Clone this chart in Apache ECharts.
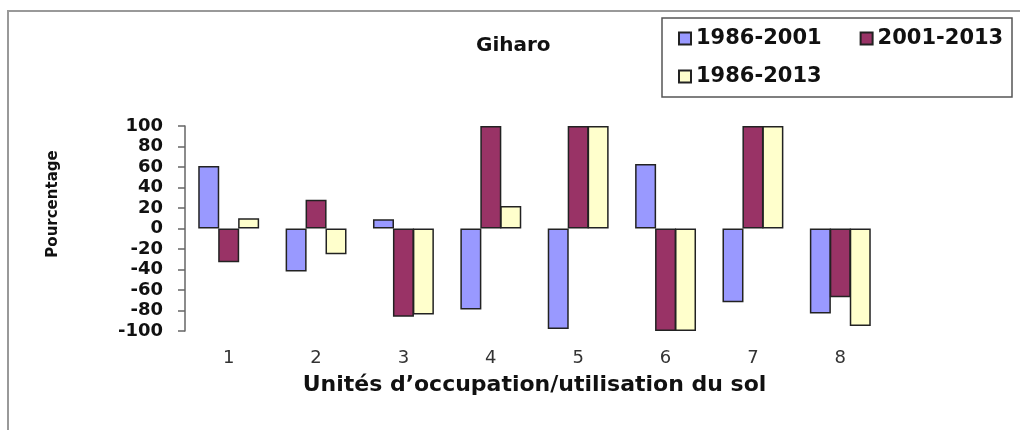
<!DOCTYPE html>
<html>
<head>
<meta charset="utf-8">
<script src="https://cdn.jsdelivr.net/npm/echarts@6/dist/echarts.min.js"></script>
<style>
html,body{margin:0;padding:0;background:#fff;}
#c{width:1020px;height:430px;}
</style>
</head>
<body>
<div id="c"></div>
<script>
var categories = ['1', '2', '3', '4', '5', '6', '7', '8'];
var seriesNames = ['1986-2001', '2001-2013', '1986-2013'];
var s1986_2001 = [61, -42, 9, -79, -98, 63, -72, -83];
var s2001_2013 = [-33, 28, -86, 100, 100, -100, 100, -67];
var s1986_2013 = [10, -25, -84, 22, 100, -100, 100, -95];
var titleText = 'Giharo';
var yName = 'Pourcentage';
var xName = 'Unités d\u2019occupation/utilisation du sol';

var colors = ['#9999FF', '#993366', '#FFFFCC'];
var font = 'DejaVu Sans';

function bar(name, data, color) {
  return {
    name: name,
    type: 'bar',
    data: data,
    barWidth: 21,
    barGap: '-5%',
    itemStyle: { color: color, borderColor: '#222', borderWidth: 1.5 }
  };
}

var chart = echarts.init(document.getElementById('c'));
chart.setOption({
  backgroundColor: '#fff',
  animation: false,
  title: {
    text: titleText,
    left: 476, top: 36, padding: 0,
    textStyle: { fontFamily: font, fontWeight: 'bold', fontSize: 20, color: '#111' }
  },
  legend: [{
    data: [seriesNames[0], seriesNames[1]],
    left: 678, top: 28, padding: 0,
    itemWidth: 12, itemHeight: 12, itemGap: 38,
    icon: 'rect',
    textStyle: { fontFamily: font, fontWeight: 'bold', fontSize: 21, color: '#111' }
  }, {
    data: [seriesNames[2]],
    left: 678, top: 66, padding: 0,
    itemWidth: 12, itemHeight: 12, itemGap: 38,
    icon: 'rect',
    textStyle: { fontFamily: font, fontWeight: 'bold', fontSize: 21, color: '#111' }
  }],
  graphic: [{
    type: 'rect', z: -1, silent: true,
    shape: { x: 8, y: 11, width: 1200, height: 600 },
    style: { fill: 'none', stroke: '#999', lineWidth: 2 }
  }, {
    type: 'rect', silent: true,
    shape: { x: 662, y: 18, width: 350, height: 79 },
    style: { fill: 'none', stroke: '#555', lineWidth: 1.5 }
  }, {
    type: 'text', silent: true,
    x: 53, y: 204, rotation: Math.PI / 2,
    style: {
      text: yName, fontFamily: font, fontWeight: 'bold', fontSize: 15, fill: '#111',
      align: 'center', verticalAlign: 'middle'
    }
  }],
  grid: { left: 185, right: 136, top: 126, bottom: 99 },
  xAxis: {
    type: 'category',
    data: categories,
    axisLine: { show: false },
    axisTick: { show: false },
    axisLabel: { margin: 18, fontFamily: font, fontSize: 18, color: '#333' },
    name: xName,
    nameLocation: 'middle',
    nameGap: 43,
    nameTextStyle: { fontFamily: font, fontWeight: 'bold', fontSize: 22, color: '#111' }
  },
  yAxis: {
    type: 'value',
    min: -100, max: 100, interval: 20,
    axisLine: { show: true, lineStyle: { color: '#666', width: 1.5 } },
    axisTick: { show: true, length: 7, lineStyle: { color: '#666', width: 1.5 } },
    splitLine: { show: false },
    axisLabel: { margin: 22, fontFamily: font, fontWeight: 'bold', fontSize: 18, color: '#111' }
  },
  series: [
    bar(seriesNames[0], s1986_2001, colors[0]),
    bar(seriesNames[1], s2001_2013, colors[1]),
    bar(seriesNames[2], s1986_2013, colors[2])
  ]
});
</script>
</body>
</html>
